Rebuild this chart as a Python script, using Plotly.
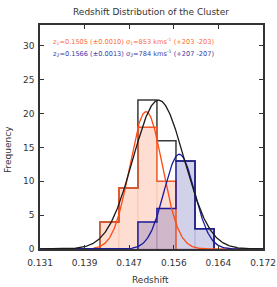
import numpy as np
import plotly.graph_objects as go

# ---- data ----
bin_edges = [0.142, 0.1455, 0.149, 0.1525, 0.156, 0.1595, 0.163]
counts_all = [4, 9, 22, 16, 13, 3]
counts_g1 = [4, 9, 18, 10, 0, 0]
counts_g2 = [0, 0, 4, 6, 13, 3]

# gaussian fit parameters (mean, sigma, amplitude)
fit_all = (0.1528, 0.0047, 22.0)
fit_g1 = (0.1505, 0.0030, 20.3)
fit_g2 = (0.1566, 0.0028, 14.0)

x_ticks = [0.131, 0.1392, 0.1474, 0.1556, 0.1638, 0.172]
x_tick_labels = ["0.131", "0.139", "0.147", "0.156", "0.164", "0.172"]
y_ticks = [0, 5, 10, 15, 20, 25, 30]

title = "Redshift Distribution of the Cluster"
label1 = "z<sub>1</sub>=0.1505 (±0.0010) σ<sub>1</sub>=853 kms<sup>-1</sup> (+203 -203)"
label2 = "z<sub>2</sub>=0.1566 (±0.0013) σ<sub>2</sub>=784 kms<sup>-1</sup> (+207 -207)"

FONT = "DejaVu Sans"


def step_xy(edges, counts):
    xs = [edges[0]]
    ys = [0]
    for i, c in enumerate(counts):
        xs += [edges[i], edges[i + 1]]
        ys += [c, c]
    xs.append(edges[-1])
    ys.append(0)
    return xs, ys


def trimmed(edges, counts):
    idx = [i for i, c in enumerate(counts) if c > 0]
    a, b = idx[0], idx[-1]
    return edges[a:b + 2], counts[a:b + 1]


def gauss(params, xs):
    m, s, a = params
    return a * np.exp(-0.5 * ((xs - m) / s) ** 2)


fig = go.Figure()
bw = bin_edges[1] - bin_edges[0]
centers = [(bin_edges[i] + bin_edges[i + 1]) / 2 for i in range(len(counts_all))]

# filled bars
fig.add_trace(go.Bar(x=centers, y=counts_g1, width=bw,
                     marker=dict(color="rgba(250,120,80,0.25)",
                                 line=dict(color="rgba(250,120,80,0.15)", width=1))))
fig.add_trace(go.Bar(x=centers, y=counts_g2, width=bw,
                     marker=dict(color="rgba(70,70,170,0.25)",
                                 line=dict(color="rgba(70,70,170,0.15)", width=1))))

# step outlines
for counts, col in [(counts_all, "#3a3a3a"), (counts_g1, "#f25a28"), (counts_g2, "#1c1c96")]:
    e, c = trimmed(bin_edges, counts)
    sx, sy = step_xy(e, c)
    fig.add_trace(go.Scatter(x=sx, y=sy, mode="lines",
                             line=dict(color=col, width=1.5)))

# gaussian curves
xg = np.linspace(0.131, 0.172, 400)
for params, col in [(fit_g1, "#ff4a14"), (fit_g2, "#1a1aa0"), (fit_all, "#1a1a1a")]:
    fig.add_trace(go.Scatter(x=xg, y=gauss(params, xg), mode="lines",
                             line=dict(color=col, width=1.3)))

L, R, T, B = 40, 14, 25, 38
W, H = 277, 287
pw, ph = W - L - R, H - T - B

anns = []
for txt, py, col in [(label1, 42, "#ff6a3a"), (label2, 53, "#3a3aa8")]:
    anns.append(dict(text=txt, x=(51 - L) / pw, y=1 - (py - T) / ph,
                     xref="paper", yref="paper", xanchor="left", yanchor="middle",
                     showarrow=False, font=dict(family=FONT, size=6.6, color=col)))
# axis titles placed by pixel
anns.append(dict(text="Redshift", x=(150 - L) / pw, y=-(280 - (H - B)) / ph,
                 xref="paper", yref="paper", xanchor="center", yanchor="middle",
                 showarrow=False, font=dict(family=FONT, size=9, color="#333333")))
anns.append(dict(text="Frequency", x=-(L - 8) / pw, y=1 - (150 - T) / ph,
                 xref="paper", yref="paper", xanchor="center", yanchor="middle",
                 textangle=-90, showarrow=False,
                 font=dict(family=FONT, size=9, color="#333333")))
anns.append(dict(text=title, x=(151 - L) / pw, y=1 + (T - 12) / ph,
                 xref="paper", yref="paper", xanchor="center", yanchor="middle",
                 showarrow=False, font=dict(family=FONT, size=9, color="#333333")))

fig.update_layout(
    width=W, height=H,
    margin=dict(l=L, r=R, t=T, b=B, autoexpand=False),
    paper_bgcolor="white", plot_bgcolor="white",
    showlegend=False, barmode="overlay",
    font=dict(family=FONT, size=9, color="#333333"),
    annotations=anns,
)

fig.update_xaxes(range=[0.131, 0.172], tickvals=x_ticks, ticktext=x_tick_labels,
                 showgrid=False, zeroline=False, showline=True, mirror="ticks",
                 linecolor="#333333", linewidth=1.5, ticks="inside", ticklen=4,
                 tickcolor="#333333", tickfont=dict(size=9), automargin=False,
                 ticklabelstandoff=4)
fig.update_yaxes(range=[0, 33.1], tickvals=y_ticks,
                 showgrid=False, zeroline=False, showline=True, mirror="ticks",
                 linecolor="#333333", linewidth=1.5, ticks="inside", ticklen=4,
                 tickcolor="#333333", tickfont=dict(size=9), automargin=False,
                 ticklabelstandoff=2)

fig.write_html("out.html", config={"displayModeBar": False},
               post_script="document.body.style.margin='0';document.body.style.overflow='hidden';")
